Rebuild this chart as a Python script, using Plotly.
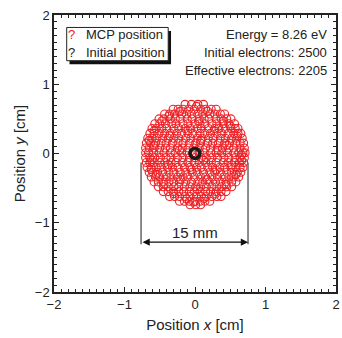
import plotly.graph_objects as go

# MCP (detector) positions (cm)
row_y = [0.71, 0.64, 0.57, 0.50, 0.43, 0.36, 0.29, 0.22, 0.15, 0.08, 0.01,
         -0.06, -0.13, -0.20, -0.27, -0.34, -0.41, -0.48, -0.55, -0.62, -0.69, -0.74]
row_x = [
    [-0.14, -0.05, 0.04, 0.12],
    [-0.31, -0.24, -0.17, -0.09, -0.01, 0.08, 0.15, 0.23, 0.30],
    [-0.43, -0.36, -0.29, -0.19, -0.12, -0.05, 0.04, 0.11, 0.21, 0.28, 0.36, 0.42],
    [-0.51, -0.44, -0.35, -0.28, -0.21, -0.11, -0.04, 0.06, 0.13, 0.20, 0.30, 0.37, 0.45, 0.51],
    [-0.57, -0.50, -0.42, -0.33, -0.27, -0.17, -0.10, 0.00, 0.07, 0.14, 0.24, 0.31, 0.40, 0.48, 0.56],
    [-0.61, -0.55, -0.47, -0.40, -0.30, -0.23, -0.14, -0.06, 0.03, 0.09, 0.19, 0.28, 0.34, 0.43, 0.51, 0.57, 0.61],
    [-0.64, -0.58, -0.51, -0.43, -0.35, -0.26, -0.19, -0.10, -0.03, 0.07, 0.14, 0.22, 0.31, 0.38, 0.47, 0.55, 0.61, 0.65],
    [-0.67, -0.61, -0.54, -0.46, -0.38, -0.30, -0.23, -0.13, -0.06, 0.03, 0.10, 0.19, 0.26, 0.36, 0.43, 0.52, 0.59, 0.67],
    [-0.69, -0.63, -0.56, -0.48, -0.41, -0.32, -0.24, -0.17, -0.08, 0.01, 0.08, 0.18, 0.25, 0.33, 0.42, 0.49, 0.58, 0.64, 0.69],
    [-0.70, -0.65, -0.58, -0.50, -0.42, -0.35, -0.25, -0.18, -0.09, -0.02, 0.06, 0.15, 0.22, 0.32, 0.39, 0.48, 0.55, 0.64, 0.70],
    [-0.70, -0.66, -0.59, -0.51, -0.44, -0.35, -0.28, -0.19, -0.11, -0.03, 0.06, 0.13, 0.22, 0.30, 0.38, 0.46, 0.55, 0.62, 0.68, 0.71],
    [-0.70, -0.64, -0.57, -0.49, -0.41, -0.34, -0.25, -0.17, -0.08, 0.00, 0.09, 0.16, 0.24, 0.32, 0.41, 0.48, 0.57, 0.64, 0.70],
    [-0.69, -0.64, -0.58, -0.50, -0.43, -0.34, -0.27, -0.18, -0.10, -0.01, 0.06, 0.15, 0.23, 0.30, 0.40, 0.47, 0.56, 0.63, 0.69],
    [-0.68, -0.62, -0.55, -0.48, -0.39, -0.32, -0.24, -0.15, -0.07, 0.02, 0.09, 0.18, 0.25, 0.35, 0.42, 0.51, 0.58, 0.64, 0.68],
    [-0.65, -0.60, -0.53, -0.46, -0.37, -0.30, -0.21, -0.13, -0.04, 0.03, 0.12, 0.21, 0.28, 0.36, 0.45, 0.52, 0.60, 0.65],
    [-0.62, -0.56, -0.50, -0.41, -0.34, -0.25, -0.17, -0.10, -0.01, 0.08, 0.15, 0.24, 0.32, 0.41, 0.48, 0.55, 0.62],
    [-0.58, -0.52, -0.45, -0.37, -0.30, -0.22, -0.13, -0.05, 0.04, 0.11, 0.20, 0.29, 0.36, 0.44, 0.52, 0.58],
    [-0.52, -0.45, -0.38, -0.30, -0.23, -0.15, -0.07, 0.01, 0.08, 0.16, 0.24, 0.31, 0.38, 0.45, 0.52],
    [-0.45, -0.38, -0.31, -0.23, -0.16, -0.08, -0.01, 0.07, 0.15, 0.22, 0.30, 0.37, 0.44],
    [-0.36, -0.29, -0.22, -0.14, -0.07, 0.02, 0.09, 0.16, 0.24, 0.31, 0.37],
    [-0.22, -0.15, -0.08, 0.00, 0.07, 0.14, 0.21],
    [-0.07, 0.01, 0.08],
]
# extra MCP hits sitting between the rows
extra_x = [-0.22, 0.18, 0.40, -0.47, 0.05, -0.58, 0.27, -0.10, 0.60, -0.36, 0.08, -0.58,
           0.45, -0.22, 0.33, 0.66, -0.62, 0.12, -0.38, 0.52, -0.05, 0.30, -0.55, 0.58,
           -0.21, 0.17, -0.44, 0.44, 0.03, -0.30, 0.29, -0.12, 0.13, -0.37, 0.50, -0.65,
           0.66, -0.62, 0.02, -0.02]
extra_y = [0.605, 0.61, 0.47, 0.47, 0.465, 0.33, 0.33, 0.33, 0.25, 0.255, 0.19, 0.12,
           0.12, 0.05, 0.045, -0.02, -0.09, -0.095, -0.16, -0.165, -0.235, -0.24, -0.30, -0.305,
           -0.375, -0.38, -0.445, -0.45, -0.515, -0.58, -0.585, -0.655, -0.65, 0.54, 0.40, 0.19,
           -0.10, -0.23, 0.68, -0.70]

# Initial positions (small cluster at the centre, cm)
init_x = [0.00, 0.015, -0.012, 0.006, -0.015]
init_y = [0.00, 0.012, 0.015, -0.015, -0.006]

info_lines = ["Energy = 8.26 eV", "Initial electrons: 2500", "Effective electrons: 2205"]
legend_labels = ["MCP position", "Initial position"]
tick_vals = [-2, -1, 0, 1, 2]
span_x = [-0.765, 0.752]
span_label = "15 mm"

mcp_x, mcp_y = [], []
for yy, xr in zip(row_y, row_x):
    for xx in xr:
        mcp_x.append(xx)
        mcp_y.append(yy)
mcp_x += extra_x
mcp_y += extra_y

FONT = "Liberation Sans, Arial, sans-serif"
RED = "#ec2226"

fig = go.Figure()
fig.add_trace(go.Scatter(x=mcp_x, y=mcp_y, mode="markers",
                         marker=dict(symbol="circle-open", size=8, color=RED,
                                     line=dict(width=1.1, color=RED)),
                         showlegend=False))
fig.add_trace(go.Scatter(x=init_x, y=init_y, mode="markers",
                         marker=dict(symbol="circle-open", size=10, color="#1a1a1a",
                                     line=dict(width=1.3, color="#1a1a1a")),
                         showlegend=False))

shapes = []
# dimension lines
for sx in span_x:
    shapes.append(dict(type="line", xref="x", yref="y", x0=sx, x1=sx, y0=-0.13, y1=-1.31,
                       line=dict(color="#666", width=1.5)))
# legend box with shadow
shapes.append(dict(type="rect", xref="x", yref="y", x0=-1.78, x1=-0.34, y0=1.29, y1=1.77,
                   fillcolor="#111", line=dict(width=0)))
shapes.append(dict(type="rect", xref="x", yref="y", x0=-1.82, x1=-0.38, y0=1.34, y1=1.82,
                   fillcolor="white", line=dict(color="#222", width=1)))

annotations = []
annotations.append(dict(x=span_x[1], y=-1.28, ax=span_x[0], ay=-1.28, xref="x", yref="y",
                        axref="x", ayref="y", text="", showarrow=True, arrowhead=2,
                        arrowside="end+start", arrowsize=1.2, arrowwidth=1.2, arrowcolor="#111"))
annotations.append(dict(x=0, y=-1.14, xref="x", yref="y", text=span_label, showarrow=False,
                        font=dict(size=15, color="#222", family=FONT)))
for i, t in enumerate(info_lines):
    annotations.append(dict(x=1.9, y=1.72 - 0.26 * i, xref="x", yref="y", text=t,
                            showarrow=False, xanchor="right",
                            font=dict(size=13, color="#222", family=FONT)))
leg_colors = [RED, "#222"]
for i, t in enumerate(legend_labels):
    yy = 1.72 - 0.26 * i
    annotations.append(dict(x=-1.75, y=yy, xref="x", yref="y", text="?", showarrow=False,
                            font=dict(size=13, color=leg_colors[i], family=FONT)))
    annotations.append(dict(x=-1.58, y=yy, xref="x", yref="y", text=t, showarrow=False,
                            xanchor="left", font=dict(size=13, color="#222", family=FONT)))

axis_common = dict(range=[-2, 2], tickvals=tick_vals, ticks="inside", ticklen=5,
                   tickwidth=1, tickcolor="#222", showline=True, linecolor="#222",
                   linewidth=1.5, mirror="allticks", showgrid=False, zeroline=False,
                   tickfont=dict(size=13, color="#222", family=FONT),
                   minor=dict(dtick=0.1, ticks="inside", ticklen=3, tickcolor="#222",
                              tickwidth=1, showgrid=False))

fig.update_layout(
    width=342, height=338,
    margin=dict(l=54, r=2, t=15, b=46),
    plot_bgcolor="white", paper_bgcolor="white",
    shapes=shapes, annotations=annotations,
    xaxis=dict(**axis_common, title=dict(text="Position <i>x</i> [cm]", standoff=8,
                                         font=dict(size=15, color="#222", family=FONT))),
    yaxis=dict(**axis_common, title=dict(text="Position <i>y</i> [cm]", standoff=6,
                                         font=dict(size=15, color="#222", family=FONT))),
)

fig.write_html("out.html")
